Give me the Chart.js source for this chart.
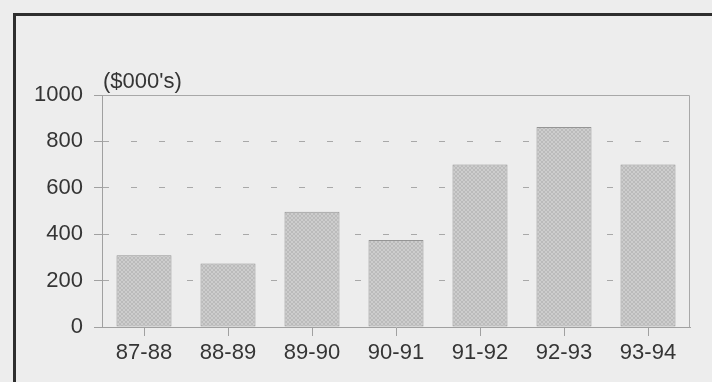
<!DOCTYPE html>
<html>
<head>
<meta charset="utf-8">
<script src="https://cdn.jsdelivr.net/npm/chart.js@4/dist/chart.umd.min.js"></script>
<style>
  html, body { margin: 0; padding: 0; background: #ededed; }
  #wrap { width: 712px; height: 382px; position: relative; }
</style>
</head>
<body>
<div id="wrap"><canvas id="chart" width="712" height="382"></canvas></div>
<script>
// Fiscal years and amounts in thousands of dollars
const years = ['87-88', '88-89', '89-90', '90-91', '91-92', '92-93', '93-94'];
const amounts = [309, 274, 497, 375, 700, 862, 700];
const yTicks = [0, 200, 400, 600, 800, 1000];
const unitLabel = "($000's)";

const FONT = '"Liberation Sans", Arial, Helvetica, sans-serif';
const TEXT = '#353535';

// fine diagonal stipple for the bars
function stipple() {
  const c = document.createElement('canvas');
  c.width = 4; c.height = 4;
  const g = c.getContext('2d');
  g.fillStyle = '#cdcdcd';
  g.fillRect(0, 0, 4, 4);
  g.fillStyle = '#bbbbbb';
  // two crossing diagonals
  for (let i = 0; i < 4; i++) {
    g.fillRect(i, i, 1, 1);
    g.fillRect(3 - i, i, 1, 1);
  }
  return g.createPattern(c, 'repeat');
}

// page background, the heavy frame on top/left, plot box and unit label
const decor = {
  id: 'decor',
  beforeDraw(chart) {
    const ctx = chart.ctx;
    ctx.save();
    ctx.fillStyle = '#ededed';
    ctx.fillRect(0, 0, chart.width, chart.height);
    ctx.fillStyle = '#2e2e2e';
    ctx.fillRect(13, 13, chart.width - 13, 3);
    ctx.fillRect(13, 13, 3, chart.height - 13);
    ctx.restore();
  },
  afterDraw(chart) {
    const { ctx, chartArea: a } = chart;
    ctx.save();
    ctx.strokeStyle = '#a8a8a8';
    ctx.lineWidth = 1;
    ctx.beginPath();
    ctx.moveTo(Math.round(a.left) + 0.5, Math.round(a.top) + 0.5);
    ctx.lineTo(Math.round(a.right) - 0.5, Math.round(a.top) + 0.5);
    ctx.lineTo(Math.round(a.right) - 0.5, Math.round(a.bottom) + 0.5);
    ctx.stroke();
    ctx.fillStyle = TEXT;
    ctx.font = '22px ' + FONT;
    ctx.textBaseline = 'alphabetic';
    ctx.textAlign = 'left';
    ctx.fillText(unitLabel, a.left + 1, a.top - 7);
    ctx.restore();
  }
};

new Chart(document.getElementById('chart'), {
  type: 'bar',
  data: {
    labels: years,
    datasets: [{
      data: amounts,
      backgroundColor: stipple(),
      borderColor: '#959595',
      borderWidth: 1,
      borderSkipped: false,
      categoryPercentage: 1,
      barPercentage: 0.655
    }]
  },
  options: {
    responsive: false,
    animation: false,
    events: [],
    layout: { padding: { top: 95, right: 22, left: 0, bottom: 0 } },
    plugins: { legend: { display: false }, tooltip: { enabled: false } },
    scales: {
      x: {
        grid: {
          display: true,
          offset: false,
          drawOnChartArea: false,
          drawTicks: true,
          tickLength: 9,
          tickColor: '#a0a0a0',
          tickWidth: 1
        },
        border: { display: true, color: '#a0a0a0', width: 1 },
        ticks: {
          color: TEXT,
          font: { family: FONT, size: 22 },
          padding: 4,
          maxRotation: 0,
          autoSkip: false
        },
        afterFit(scale) { scale.height = 55; }
      },
      y: {
        min: 0,
        max: 1000,
        afterBuildTicks(scale) { scale.ticks = yTicks.map(v => ({ value: v })); },
        grid: {
          color: '#a8a8a8',
          lineWidth: 1,
          drawTicks: true,
          tickLength: 8,
          tickColor: '#a0a0a0',
          tickWidth: 1,
          tickBorderDash: []
        },
        border: { display: true, color: '#a0a0a0', width: 1, dash: [6, 22] },
        ticks: {
          color: TEXT,
          font: { family: FONT, size: 22 },
          padding: 11,
          callback: v => String(v)
        },
        afterFit(scale) { scale.width = 102; }
      }
    }
  },
  plugins: [decor]
});
</script>
</body>
</html>
